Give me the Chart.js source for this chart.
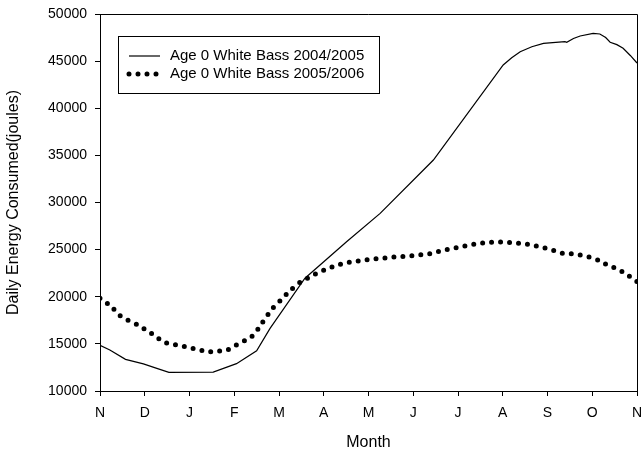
<!DOCTYPE html>
<html>
<head>
<meta charset="utf-8">
<script src="https://cdn.jsdelivr.net/npm/chart.js@4"></script>
<style>
  html, body { margin: 0; padding: 0; background: #fff; }
  #wrap { width: 642px; height: 454px; position: relative; }
</style>
</head>
<body>
<div id="wrap"><canvas id="energyChart"></canvas></div>
<script>
// month ticks, Nov to Nov
const monthLabels = ['N', 'D', 'J', 'F', 'M', 'A', 'M', 'J', 'J', 'A', 'S', 'O', 'N'];

// Age 0 White Bass 2004/2005 (solid line), x in months from start of Nov
const solidMonths = [0, 0.22, 0.57, 0.97, 1.27, 1.54, 2.53, 3.05, 3.5, 3.8, 4.58, 5.51, 6.26, 7.45,
    9.01, 9.2, 9.39, 9.65, 9.91, 10.39, 10.43, 10.58, 10.73, 11.02, 11.17, 11.3, 11.4, 11.55, 11.69, 11.85, 12];
const solidValues = [14850, 14350, 13360, 12870, 12400, 11980, 12000, 12900, 14270, 16650, 21960, 25840, 28850, 34510,
    44590, 45350, 46000, 46520, 46890, 47060, 46990, 47400, 47670, 47950, 47880, 47500, 47000, 46750, 46360, 45600, 44800];

// Age 0 White Bass 2005/2006 (dotted line)
const dottedMonths = [0, 0.24, 0.43, 0.62, 0.83, 1.03, 1.23, 1.43, 1.63, 1.83, 2.03, 2.23, 2.44, 2.64, 2.84,
    3.04, 3.24, 3.44, 3.58, 3.72, 3.87, 4.07, 4.27, 4.47, 4.67, 4.87, 5.07, 5.27, 5.47, 5.68, 5.88,
    6.08, 6.29, 6.5, 6.7, 6.9, 7.1, 7.3, 7.5, 7.7, 7.91, 8.11, 8.31, 8.51, 8.72, 8.92,
    9.12, 9.32, 9.52, 9.72, 9.92, 10.13, 10.33, 10.53, 10.73, 10.93, 11.14, 11.34, 11.54, 11.74, 12];
const dottedValues = [19850, 19020, 18060, 17530, 17040, 16470, 15840, 15170, 14950, 14780, 14560, 14350, 14150, 14240, 14350,
    14850, 15380, 15970, 16930, 17890, 18840, 19790, 20750, 21530, 22060, 22550, 22940, 23300, 23580, 23720, 23870,
    23980, 24080, 24190, 24260, 24320, 24430, 24500, 24710, 24960, 25140, 25350, 25530, 25670, 25770, 25810,
    25770, 25700, 25600, 25420, 25210, 24930, 24610, 24570, 24430, 24220, 23870, 23370, 22980, 22480, 21600];

const seriesLabels = ['Age 0 White Bass 2004/2005', 'Age 0 White Bass 2005/2006'];

const toPoints = (xs, ys) => xs.map((x, i) => ({ x: x, y: ys[i] }));

const FONT = '"Liberation Sans", Arial, sans-serif';

// top/right frame lines + legend box inside the plot
const framePlugin = {
    id: 'frame',
    afterDraw(chart) {
        const ctx = chart.ctx;
        const a = chart.chartArea;
        const top = Math.round(a.top) + 0.5;
        const right = Math.round(a.right) + 0.5;
        ctx.save();
        ctx.strokeStyle = '#000';
        ctx.lineWidth = 1;
        ctx.beginPath();
        ctx.moveTo(Math.round(a.left), top);
        ctx.lineTo(right, top);
        ctx.lineTo(right, Math.round(a.bottom) + 1);
        ctx.stroke();

        // legend
        ctx.strokeRect(118.5, 36.5, 261, 57);
        ctx.font = '15px ' + FONT;
        ctx.fillStyle = '#000';
        ctx.textBaseline = 'middle';
        chart.data.datasets.forEach((ds, i) => {
            const y = 56 + i * 18;
            ctx.save();
            ctx.lineWidth = ds.borderWidth;
            ctx.lineCap = ds.borderCapStyle || 'butt';
            ctx.setLineDash(ds.borderDash || []);
            ctx.beginPath();
            ctx.moveTo(129, y);
            ctx.lineTo(i === 0 ? 160 : 158, y);
            ctx.stroke();
            ctx.restore();
            ctx.fillText(ds.label, 170, y);
        });
        ctx.restore();
    }
};

new Chart(document.getElementById('energyChart'), {
    type: 'line',
    data: {
        datasets: [{
            label: seriesLabels[0],
            data: toPoints(solidMonths, solidValues),
            borderColor: '#000',
            borderWidth: 1.2,
            pointRadius: 0,
            tension: 0
        }, {
            label: seriesLabels[1],
            data: toPoints(dottedMonths, dottedValues),
            borderColor: '#000',
            borderWidth: 5,
            borderDash: [0, 9],
            borderCapStyle: 'round',
            pointRadius: 0,
            tension: 0.2
        }]
    },
    options: {
        responsive: true,
        maintainAspectRatio: false,
        animation: false,
        devicePixelRatio: 1,
        layout: { padding: { top: 14, right: 5, bottom: 0, left: 0 } },
        plugins: {
            legend: { display: false },
            tooltip: { enabled: false }
        },
        scales: {
            x: {
                type: 'linear',
                min: 0,
                max: 12,
                ticks: {
                    stepSize: 1,
                    color: '#000',
                    padding: 9,
                    maxRotation: 0,
                    font: { family: FONT, size: 14 },
                    callback: (v) => monthLabels[v]
                },
                grid: { drawOnChartArea: false, drawTicks: true, tickLength: 5, color: '#000' },
                border: { color: '#000' },
                title: {
                    display: true,
                    text: 'Month',
                    color: '#000',
                    padding: { top: 4, bottom: 2 },
                    font: { family: FONT, size: 16 }
                },
                afterFit(scale) {
                    scale.height = 63;
                    scale.paddingLeft = 0;
                    scale.paddingRight = 0;
                }
            },
            y: {
                min: 10000,
                max: 50000,
                ticks: {
                    stepSize: 5000,
                    color: '#000',
                    padding: 8,
                    font: { family: FONT, size: 14 },
                    callback: (v) => String(v)
                },
                grid: { drawOnChartArea: false, drawTicks: true, tickLength: 5, color: '#000' },
                border: { color: '#000' },
                title: {
                    display: true,
                    text: 'Daily Energy Consumed(joules)',
                    color: '#000',
                    font: { family: FONT, size: 16 }
                },
                afterFit(scale) {
                    scale.width = 100;
                    scale.paddingTop = 0;
                    scale.paddingBottom = 0;
                }
            }
        }
    },
    plugins: [framePlugin]
});
</script>
</body>
</html>
